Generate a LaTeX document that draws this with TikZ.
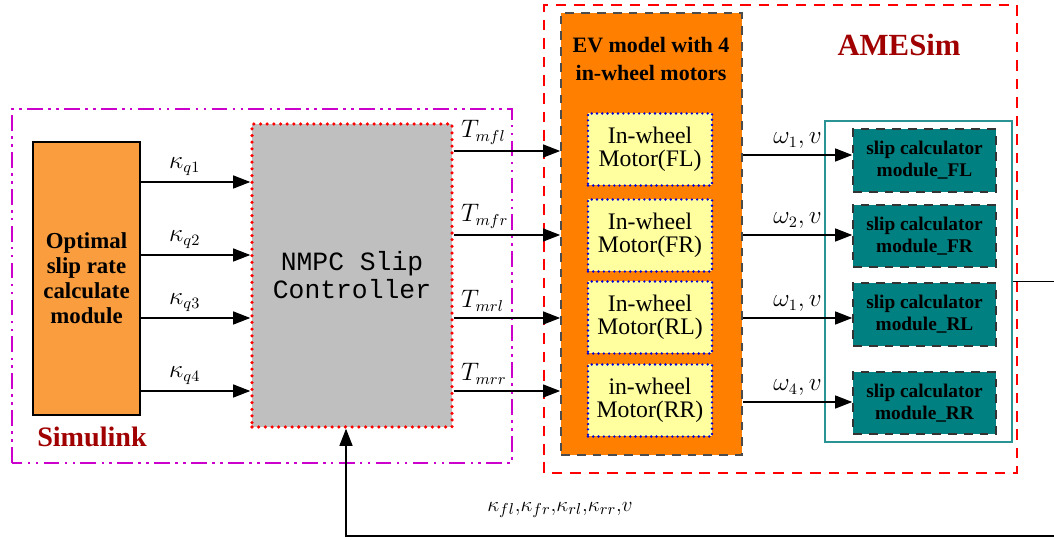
\documentclass[tikz,border=0pt]{standalone}
\usepackage{fontspec}
\setmainfont{Liberation Serif}
\newfontfamily\ctrlfont{Liberation Mono}
\usepackage{amsmath,amssymb}
\usetikzlibrary{arrows.meta,positioning,calc}
\definecolor{slkmag}{HTML}{CC00CC}
\definecolor{slkorange}{HTML}{F99D3E}
\definecolor{labred}{HTML}{A00000}
\definecolor{ctrlgray}{HTML}{BFBFBF}
\definecolor{evorange}{HTML}{FF8000}
\definecolor{motoryellow}{HTML}{FFFFA0}
\definecolor{slipteal}{HTML}{008080}
\definecolor{frameteal}{HTML}{2A9494}

\tikzset{
  sig/.style={-{Triangle[length=3.4mm,width=2.6mm]}, line width=0.6pt},
  siglabel/.style={font=\fontsize{13.5}{15}\selectfont},
  toollabel/.style={text=labred, font=\fontsize{16}{18}\selectfont\bfseries},
  motorbox/.style={draw=blue!85!black, line width=1.5pt, line cap=round,
    dash pattern=on 0pt off 3pt, fill=motoryellow, align=center,
    minimum width=2.48cm, minimum height=1.44cm, inner sep=1pt,
    font=\fontsize{13.5}{13}\selectfont},
  slipbox/.style={draw=black!80, line width=0.9pt, dash pattern=on 5pt off 4pt,
    fill=slipteal, align=center, minimum width=2.86cm, minimum height=1.25cm,
    inner sep=1pt, font=\fontsize{11}{12.5}\selectfont\bfseries},
}

\begin{document}
\begin{tikzpicture}
\useasboundingbox (0,0) rectangle (21.08,10.8);

% frames of the two tools
\draw[slkmag, line width=1.2pt, dash pattern=on 9pt off 3pt on 1.5pt off 3pt on 1.5pt off 3pt]
  (0.24,1.54) rectangle (10.24,8.62);
\draw[red, line width=1.3pt, dash pattern=on 6pt off 4.5pt] (10.88,1.34) rectangle (20.34,10.70);
\node[toollabel] (simlbl) at (1.84,2.06) {Simulink};
\node[toollabel, font=\fontsize{17.5}{20}\selectfont\bfseries] (amelbl) at (17.98,9.90) {AMESim};

% Simulink side
\node[draw, line width=1.2pt, fill=slkorange, minimum width=2.14cm, minimum height=5.46cm,
  align=center, font=\fontsize{13}{14.2}\selectfont\bfseries] (opt) at (1.73,5.23)
  {Optimal\\slip rate\\calculate\\module};
\node[fill=ctrlgray, draw=red, line width=2pt, line cap=round, dash pattern=on 0pt off 3.8pt,
  minimum width=4.0cm, minimum height=6.06cm, align=center,
  font=\fontsize{15}{16}\selectfont\ctrlfont] (nmpc) at (7.04,5.29) {NMPC Slip\\Controller};

% AMESim side
\node[fill=evorange, draw=black!70, line width=1pt, dash pattern=on 5pt off 4pt,
  minimum width=3.62cm, minimum height=8.84cm] (ev) at (13.03,6.12) {};
\node[align=center, font=\fontsize{12.5}{15.4}\selectfont\bfseries] (evtitle) at (13.02,9.62)
  {EV model with 4\\in-wheel motors};
\node[motorbox] (mfl) at (13.00,7.81) {In-wheel\\Motor(FL)};
\node[motorbox] (mfr) at (13.00,6.09) {In-wheel\\Motor(FR)};
\node[motorbox] (mrl) at (13.00,4.45) {In-wheel\\Motor(RL)};
\node[motorbox] (mrr) at (13.00,2.79) {in-wheel\\Motor(RR)};

\node[draw=frameteal, line width=1.2pt, minimum width=3.74cm, minimum height=6.42cm] (slipframe)
  at (18.37,5.17) {};
\node[slipbox] (sfl) at (18.49,7.59) {slip calculator\\module\_FL};
\node[slipbox] (sfr) at (18.49,6.08) {slip calculator\\module\_FR};
\node[slipbox] (srl) at (18.49,4.51) {slip calculator\\module\_RL};
\node[slipbox] (srr) at (18.49,2.74) {slip calculator\\module\_RR};

% signals
\foreach \y/\i in {7.16/1,5.70/2,4.44/3,2.98/4}
  \draw[sig] (opt.east |- 0,\y) -- node[siglabel, above, pos=0.4] {$\kappa_{q\i}$} (nmpc.west |- 0,\y);
\foreach \y/\s in {7.78/mfl,6.10/mfr,4.44/mrl,2.98/mrr}
  \draw[sig] (nmpc.east |- 0,\y) -- node[siglabel, above right, pos=0, xshift=0.02cm] {$T_{\s}$} (ev.west |- 0,\y);
\draw[sig] (ev.east |- 0,7.70) -- node[siglabel, above] {$\omega_1,v$} (sfl.west |- 0,7.70);
\draw[sig] (ev.east |- 0,6.10) -- node[siglabel, above] {$\omega_2,v$} (sfr.west |- 0,6.10);
\draw[sig] (ev.east |- 0,4.44) -- node[siglabel, above] {$\omega_1,v$} (srl.west |- 0,4.44);
\draw[sig] (ev.east |- 0,2.76) -- node[siglabel, above] {$\omega_4,v$} (srr.west |- 0,2.76);

% feedback
\coordinate (fbcorner) at (21.4,0.08);
\draw[sig] (slipframe.east) -| (fbcorner) -| ([xshift=-0.12cm]nmpc.south);
\node[siglabel, font=\fontsize{12.5}{14}\selectfont] (fblbl) at (11.2,0.6)
  {$\kappa_{fl}{,}\kappa_{fr}{,}\kappa_{rl}{,}\kappa_{rr}{,}v$};
\end{tikzpicture}
\end{document}
